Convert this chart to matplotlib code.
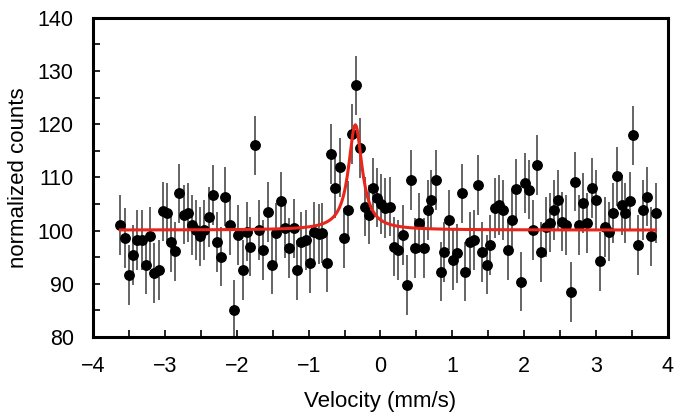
import numpy as np
import matplotlib
matplotlib.use("Agg")
import matplotlib.pyplot as plt
from matplotlib.ticker import MultipleLocator

plt.rcParams['font.family'] = ['Liberation Sans', 'DejaVu Sans']

# measured points (velocity, normalized counts)
velocity = [-3.62, -3.56, -3.50, -3.44, -3.39, -3.32, -3.27, -3.21, -3.15, -3.09,
            -3.03, -2.97, -2.92, -2.86, -2.80, -2.74, -2.68, -2.62, -2.57, -2.51,
            -2.45, -2.39, -2.33, -2.28, -2.22, -2.16, -2.10, -2.04, -1.98, -1.92,
            -1.86, -1.81, -1.75, -1.69, -1.63, -1.57, -1.51, -1.45, -1.39, -1.33,
            -1.28, -1.21, -1.16, -1.10, -1.04, -0.98, -0.92, -0.86, -0.81, -0.75,
            -0.69, -0.63, -0.57, -0.51, -0.45, -0.40, -0.34, -0.28, -0.22, -0.16,
            -0.10, -0.05, 0.01, 0.07, 0.13, 0.19, 0.25, 0.31, 0.37, 0.43,
            0.48, 0.54, 0.60, 0.66, 0.71, 0.77, 0.84, 0.89, 0.95, 1.01,
            1.07, 1.13, 1.18, 1.24, 1.30, 1.36, 1.42, 1.48, 1.53, 1.59,
            1.65, 1.71, 1.77, 1.83, 1.89, 1.95, 2.01, 2.07, 2.12, 2.18,
            2.23, 2.30, 2.36, 2.42, 2.47, 2.53, 2.59, 2.65, 2.71, 2.77,
            2.82, 2.88, 2.94, 3.00, 3.06, 3.12, 3.18, 3.24, 3.30, 3.36,
            3.41, 3.47, 3.52, 3.59, 3.65, 3.71, 3.76, 3.83]
counts = [101.1, 98.6, 91.7, 95.4, 98.2, 98.2, 93.6, 98.9, 92.0, 92.6,
          103.6, 103.3, 97.9, 96.1, 107.0, 103.0, 103.4, 101.1, 100.1, 98.9,
          100.1, 102.6, 106.7, 97.9, 95.1, 106.4, 101.1, 85.1, 99.2, 92.6,
          99.8, 97.0, 116.0, 100.1, 96.4, 103.5, 93.6, 99.5, 105.5, 100.4,
          96.7, 100.4, 92.6, 97.9, 98.2, 93.9, 99.8, 99.4, 99.5, 94.0,
          114.4, 108.0, 111.9, 98.6, 103.8, 118.2, 127.3, 115.5, 104.5, 103.0,
          108.0, 106.2, 105.0, 104.2, 104.5, 97.0, 96.4, 99.2, 89.8, 109.5,
          96.7, 101.4, 96.7, 103.9, 105.8, 109.5, 92.3, 96.0, 102.0, 94.5,
          95.7, 107.0, 92.3, 97.9, 98.2, 108.6, 96.0, 93.6, 97.3, 104.2,
          104.8, 103.9, 96.4, 102.0, 107.8, 90.4, 108.9, 107.7, 100.1, 112.3,
          96.0, 100.7, 101.5, 103.9, 105.8, 101.7, 101.1, 88.5, 109.2, 101.1,
          105.2, 101.4, 108.0, 105.8, 94.2, 100.7, 99.8, 103.3, 110.2, 104.8,
          103.3, 105.5, 117.9, 97.3, 103.9, 106.4, 98.9, 103.3]
count_err = 5.6

# Lorentzian fit parameters
fit_base = 100.1
fit_amp = 19.8
fit_center = -0.35
fit_hwhm = 0.115


def main():
    fig = plt.figure(figsize=(6.8, 4.15), dpi=100)
    ax = fig.add_axes([0.137, 0.188, 0.845, 0.769])

    ax.errorbar(velocity, counts, yerr=count_err, fmt="o", color="black",
                ecolor="#4a4a4a", elinewidth=1.2, markersize=6.8, capsize=0, zorder=2)

    vfit = np.linspace(velocity[0], velocity[-1], 600)
    cfit = fit_base + fit_amp / (1 + ((vfit - fit_center) / fit_hwhm) ** 2)
    ax.plot(vfit, cfit, color="#e8261c", linewidth=2.2, zorder=3)

    ax.set_xlim(-4, 4)
    ax.set_ylim(80, 140)
    ax.xaxis.set_major_locator(MultipleLocator(1))
    ax.xaxis.set_minor_locator(MultipleLocator(0.5))
    ax.yaxis.set_major_locator(MultipleLocator(10))
    ax.yaxis.set_minor_locator(MultipleLocator(5))
    ax.tick_params(which="both", direction="in", length=5, width=1.2,
                   top=False, right=False)
    ax.tick_params(axis="x", which="major", labelsize=15.5, pad=14)
    ax.tick_params(axis="y", which="major", labelsize=15.5, pad=14)
    for s in ax.spines.values():
        s.set_linewidth(2.2)

    ax.set_xlabel("Velocity (mm/s)", fontsize=16, labelpad=10)
    ax.set_ylabel("normalized counts", fontsize=16, labelpad=6)

    fig.savefig("out.png", dpi=100)


if __name__ == "__main__":
    main()
